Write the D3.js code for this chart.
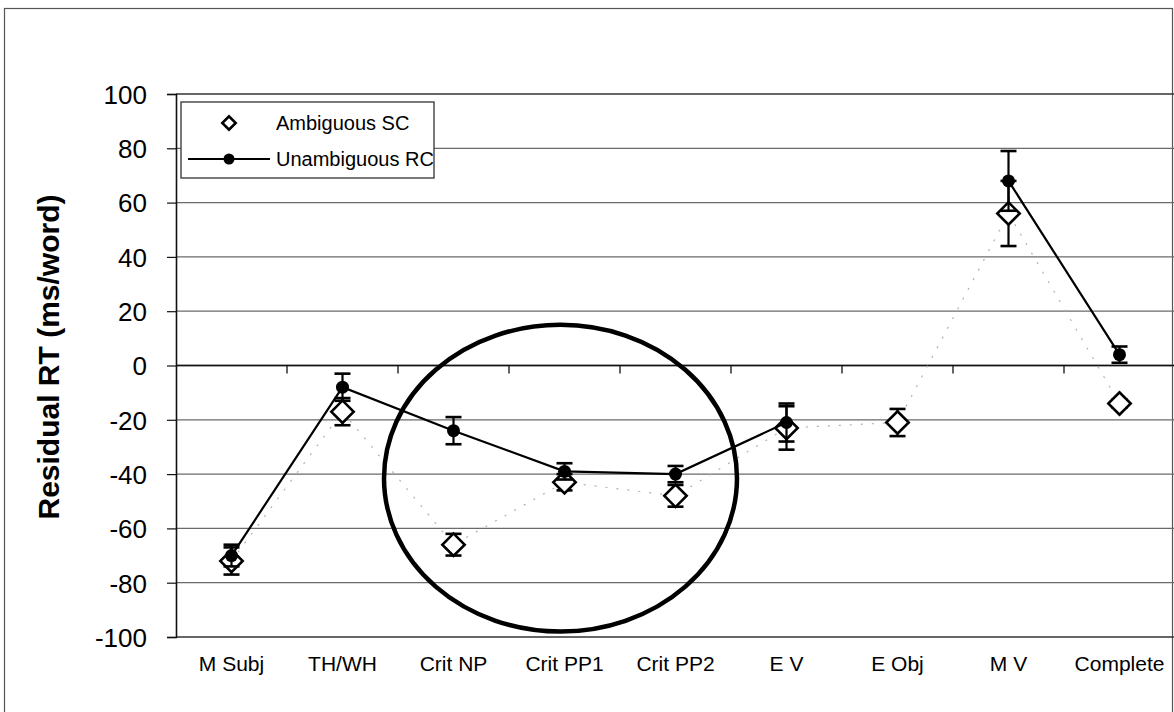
<!DOCTYPE html>
<html>
    <head>
        <title>Residual RT by region</title>
        <style>
            body { margin: 0; background: #fff; }
            svg text { font-family: "Liberation Sans", Arial, sans-serif; fill: #000; }
        </style>
        <script src="https://cdnjs.cloudflare.com/ajax/libs/d3/7.0.4/d3.min.js" charset="utf-8"></script>
    </head>
    <body>
        <div class="ChartContainer"></div>
        <script>
            // values
            const categories = ["M Subj", "TH/WH", "Crit NP", "Crit PP1", "Crit PP2", "E V", "E Obj", "M V", "Complete"];
            const ambiguousSC = [-72, -17, -66, -43, -48, -23, -21, 56, -14];
            const ambiguousErr = [5, 5, 4, 3, 4, 8, 5, 12, 1.5];
            const unambiguousRC = [-70, -8, -24, -39, -40, -21, null, 68, 4];
            const unambiguousErr = [4, 5, 5, 3, 3, 7, null, 11, 3];
            const yTicks = [100, 80, 60, 40, 20, 0, -20, -40, -60, -80, -100];
            const seriesNames = ["Ambiguous SC", "Unambiguous RC"];

            const w = 1174;
            const h = 712;
            const plotLeft = 176, plotTop = 94, plotBottom = 637;
            const band = 111;

            const svg = d3.select(".ChartContainer")
                .append("svg")
                .attr("width", w)
                .attr("height", h);

            // outer chart frame
            svg.append("rect")
                .attr("x", 4.5).attr("y", 8.5)
                .attr("width", 1168).attr("height", 720)
                .attr("fill", "none")
                .attr("stroke", "#555")
                .attr("stroke-width", 1.2);

            const xScale = d3.scaleBand()
                .domain(categories)
                .range([plotLeft, plotLeft + band * categories.length]);

            const yScale = d3.scaleLinear()
                .domain([-100, 100])
                .range([plotBottom, plotTop]);

            // gridlines
            svg.append("g")
                .selectAll("line")
                .data(yTicks)
                .enter()
                .append("line")
                .attr("x1", plotLeft)
                .attr("x2", w)
                .attr("y1", d => yScale(d))
                .attr("y2", d => yScale(d))
                .attr("stroke", d => (d === 100 || d === -100) ? "#333" : "#6a6a6a")
                .attr("stroke-width", 1.3);

            // y axis
            const yAxis = d3.axisLeft(yScale)
                .tickValues(yTicks)
                .tickFormat(d => String(d))
                .tickSize(9)
                .tickPadding(20);
            const yg = svg.append("g")
                .attr("transform", "translate(" + plotLeft + ",0)")
                .call(yAxis);
            yg.select(".domain").attr("stroke", "#111").attr("stroke-width", 1.6);
            yg.selectAll(".tick line").attr("stroke", "#111").attr("stroke-width", 1.2);
            yg.selectAll("text").style("font-size", "26px").attr("dy", "0.36em");

            // category axis crosses at 0
            svg.append("line")
                .attr("x1", plotLeft).attr("x2", w)
                .attr("y1", yScale(0)).attr("y2", yScale(0))
                .attr("stroke", "#111").attr("stroke-width", 1.6);
            svg.append("g")
                .selectAll("line")
                .data(categories.slice(1))
                .enter()
                .append("line")
                .attr("x1", d => xScale(d)).attr("x2", d => xScale(d))
                .attr("y1", yScale(0)).attr("y2", yScale(0) + 8)
                .attr("stroke", "#111").attr("stroke-width", 1.3);

            // category labels at the bottom
            const xAxis = d3.axisBottom(xScale).tickSize(0).tickPadding(19);
            const xg = svg.append("g")
                .attr("transform", "translate(0," + plotBottom + ")")
                .call(xAxis);
            xg.select(".domain").remove();
            xg.selectAll("text").style("font-size", "21px");

            // axis title
            svg.append("text")
                .attr("transform", "translate(59,357) rotate(-90)")
                .attr("text-anchor", "middle")
                .style("font-size", "30px")
                .style("font-weight", "bold")
                .text("Residual RT (ms/word)");

            const cx = (i) => xScale(categories[i]) + xScale.bandwidth() / 2;
            const idx = d3.range(categories.length);

            // faint dotted line for the ambiguous series
            svg.append("path")
                .datum(idx)
                .attr("fill", "none")
                .attr("stroke", "#b0b0b0")
                .attr("stroke-width", 1.2)
                .attr("stroke-dasharray", "2,9")
                .attr("d", d3.line().x(i => cx(i)).y(i => yScale(ambiguousSC[i])));

            function errorBars(values, errs) {
                const g = svg.append("g").attr("stroke", "#000").attr("stroke-width", 2.2);
                const pts = idx.filter(i => values[i] !== null);
                g.selectAll(".stem").data(pts).enter().append("line")
                    .attr("x1", i => cx(i)).attr("x2", i => cx(i))
                    .attr("y1", i => yScale(values[i] + errs[i]))
                    .attr("y2", i => yScale(values[i] - errs[i]));
                [1, -1].forEach(s => {
                    g.selectAll(".cap" + s).data(pts).enter().append("line")
                        .attr("x1", i => cx(i) - 8).attr("x2", i => cx(i) + 8)
                        .attr("y1", i => yScale(values[i] + s * errs[i]))
                        .attr("y2", i => yScale(values[i] + s * errs[i]))
                        .attr("stroke-width", 2.6);
                });
            }

            const diamond = d3.symbol(d3.symbolSquare, 250);

            // ambiguous SC
            errorBars(ambiguousSC, ambiguousErr);
            svg.append("g")
                .selectAll("path")
                .data(idx)
                .enter()
                .append("path")
                .attr("d", diamond)
                .attr("transform", i => "translate(" + cx(i) + "," + yScale(ambiguousSC[i]) + ") rotate(45)")
                .attr("fill", "#fff")
                .attr("stroke", "#000")
                .attr("stroke-width", 2.6);

            // unambiguous RC
            svg.append("path")
                .datum(idx)
                .attr("fill", "none")
                .attr("stroke", "#000")
                .attr("stroke-width", 2.2)
                .attr("d", d3.line()
                    .defined(i => unambiguousRC[i] !== null)
                    .x(i => cx(i))
                    .y(i => yScale(unambiguousRC[i])));
            errorBars(unambiguousRC, unambiguousErr);
            svg.append("g")
                .selectAll("circle")
                .data(idx.filter(i => unambiguousRC[i] !== null))
                .enter()
                .append("circle")
                .attr("cx", i => cx(i))
                .attr("cy", i => yScale(unambiguousRC[i]))
                .attr("r", 6.5)
                .attr("fill", "#000");

            // hand-drawn ellipse around the critical region
            const ell = { center: "Crit PP1", value: -41.5 };
            svg.append("ellipse")
                .attr("cx", xScale(ell.center) + xScale.bandwidth() / 2 - 4)
                .attr("cy", yScale(ell.value))
                .attr("rx", band * 1.59)
                .attr("ry", yScale(0) - yScale(56.5))
                .attr("fill", "none")
                .attr("stroke", "#000")
                .attr("stroke-width", 4.5);

            // legend
            const lg = svg.append("g").attr("transform", "translate(181,102)");
            lg.append("rect")
                .attr("width", 253).attr("height", 76)
                .attr("fill", "#fff")
                .attr("stroke", "#333")
                .attr("stroke-width", 1.3);
            lg.append("path")
                .attr("d", d3.symbol(d3.symbolSquare, 90))
                .attr("transform", "translate(48,21) rotate(45)")
                .attr("fill", "#fff").attr("stroke", "#000").attr("stroke-width", 2.6);
            lg.append("line")
                .attr("x1", 7).attr("x2", 89).attr("y1", 57).attr("y2", 57)
                .attr("stroke", "#000").attr("stroke-width", 1.8);
            lg.append("circle").attr("cx", 48).attr("cy", 57).attr("r", 5.5).attr("fill", "#000");
            lg.selectAll("text")
                .data(seriesNames)
                .enter()
                .append("text")
                .attr("x", 95)
                .attr("y", (d, i) => 21 + i * 36)
                .attr("dy", "0.36em")
                .style("font-size", "20px")
                .text(d => d);
        </script>
    </body>
</html>
